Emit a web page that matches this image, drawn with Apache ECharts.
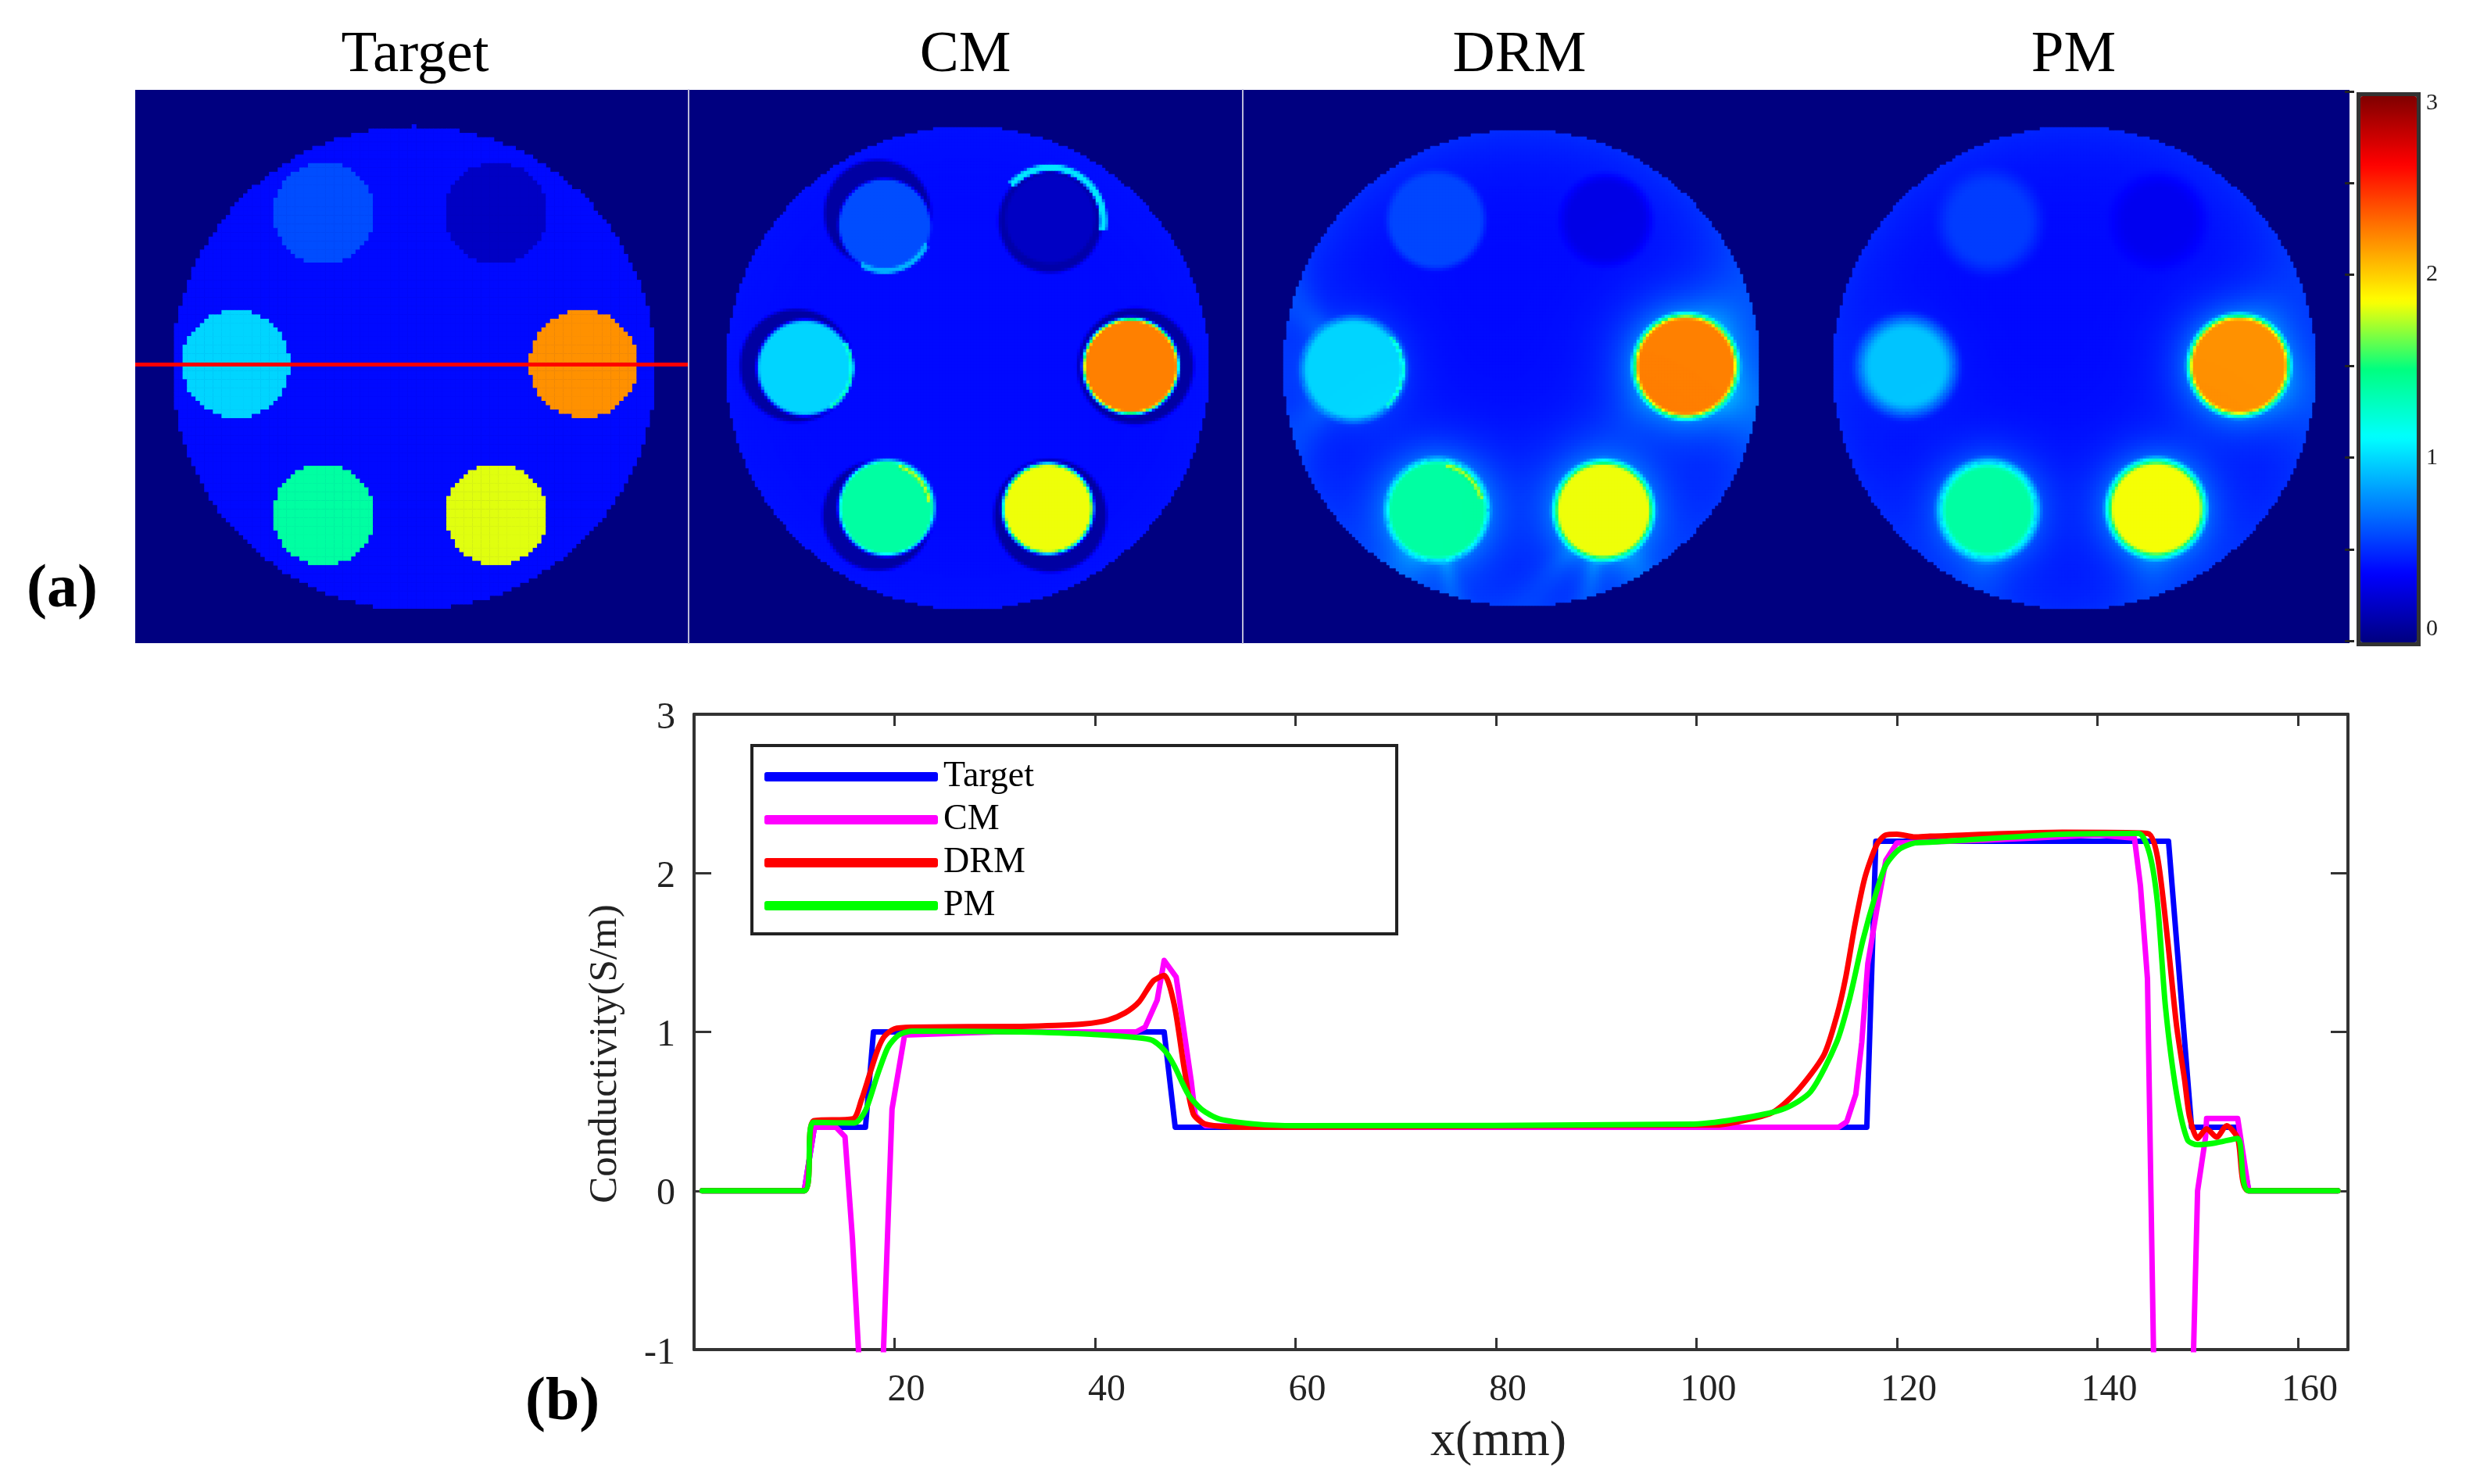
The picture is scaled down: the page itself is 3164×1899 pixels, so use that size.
<!DOCTYPE html>
<html>
<head>
<meta charset="utf-8">
<title>Conductivity reconstruction</title>
<script src="https://cdn.jsdelivr.net/npm/echarts@6/dist/echarts.min.js"></script>
<style>
html, body { margin: 0; padding: 0; background: #fff; }
#main { width: 3164px; height: 1899px; }
</style>
</head>
<body>
<div id="main"></div>
<script>
// profile along the red line: x in mm, y in S/m
var targetX = [0.8, 11, 12, 17.1, 17.9, 46.9, 48, 117, 117.9, 147.1, 149.4, 153.9, 155.1, 164];
var targetY = [0, 0, 0.4, 0.4, 1, 1, 0.4, 0.4, 2.2, 2.2, 0.4, 0.4, 0, 0];

var cmX = [0.8, 11, 12, 14.15, 15.06, 15.8, 16.4, 17.1, 18.2, 18.9, 19.75, 21, 30, 44.1, 45, 46.2, 46.9, 48.1, 49.6, 50, 51, 60, 114.2, 115, 115.9, 116.5, 117.1, 118, 118.9, 120, 130, 140, 143.7, 144.3, 145, 145.6, 146.3, 148.9, 149.6, 150, 150.8, 150.9, 154, 155.1, 164];
var cmY = [0, 0, 0.4, 0.4, 0.34, -0.3, -1, -2.5, -2.5, -1, 0.515, 0.98, 1, 1, 1.03, 1.2, 1.45, 1.345, 0.69, 0.475, 0.41, 0.4, 0.4, 0.435, 0.607, 0.937, 1.43, 1.77, 2.08, 2.19, 2.21, 2.24, 2.22, 1.92, 1.335, -1, -3, -3, -1, 0, 0.34, 0.455, 0.455, 0, 0];

var drmX = [0.8, 11, 11.9, 15.85, 16.7, 17.5, 18.3, 18.96, 20, 21.7, 32.6, 36, 38.9, 41.3, 43, 44.4, 45.8, 46.9, 47.9, 48.9, 49.8, 51, 55, 86.7, 102.3, 103.6, 107.5, 110, 112.7, 114, 114.9, 115.8, 116.8, 118, 118.9, 120, 121.8, 123.3, 136.5, 145, 146, 147, 147.9, 148.7, 149.2, 150, 150.9, 151.9, 152.9, 154, 155.1, 164];
var drmY = [0, 0, 0.44, 0.453, 0.573, 0.73, 0.885, 0.97, 1.02, 1.03, 1.035, 1.04, 1.05, 1.075, 1.12, 1.19, 1.32, 1.355, 1.173, 0.77, 0.485, 0.42, 0.4, 0.41, 0.415, 0.427, 0.49, 0.624, 0.853, 1.1, 1.345, 1.67, 1.97, 2.18, 2.24, 2.245, 2.227, 2.232, 2.257, 2.25, 2.1, 1.584, 1.04, 0.7, 0.466, 0.33, 0.39, 0.337, 0.41, 0.33, 0, 0];

var pmX = [0.8, 11, 11.9, 16, 17.1, 18.3, 19.35, 20.4, 21.7, 32.6, 39.6, 45.5, 46.9, 47.9, 49.3, 50.7, 52.4, 56, 60, 99.7, 104.9, 108.8, 111.4, 114, 115.3, 116.6, 117.9, 118.9, 120.2, 121.8, 123.3, 136.5, 144.1, 145.2, 146, 146.8, 147.9, 149, 150, 151.7, 154, 155.1, 164];
var pmY = [0, 0, 0.43, 0.427, 0.505, 0.73, 0.904, 0.98, 1.005, 1, 0.985, 0.952, 0.886, 0.788, 0.607, 0.509, 0.452, 0.42, 0.41, 0.42, 0.46, 0.518, 0.624, 0.937, 1.214, 1.575, 1.87, 2.05, 2.148, 2.19, 2.194, 2.245, 2.25, 2.125, 1.81, 1.155, 0.612, 0.32, 0.29, 0.3, 0.33, 0, 0];

var panelNames = ['Target', 'CM', 'DRM', 'PM'];
var xTicks = [20, 40, 60, 80, 100, 120, 140, 160];
var jetColors = ['#000080', '#0000ff', '#0080ff', '#00ffff', '#00ff80', '#ffff00', '#ff8000', '#ff0000', '#800000'];

// image panels: no pixel table survives in the picture, so each field is rebuilt
// from what can be read off it. units are panel widths / 708
// disc rows: x, y, radius, conductivity, edge width, glow amount, glow width
var targetDiscs = [
	[241.5, 158, 65, 0.6, 0, 0, 1],
	[462, 158, 65, 0.2, 0, 0, 1],
	[129, 351, 69, 1, 0, 0, 1],
	[574, 351, 69, 2.2, 0, 0, 1],
	[241.5, 544, 65, 1.4, 0, 0, 1],
	[462, 544, 65, 1.83, 0, 0, 1]
];
var cmDiscs = [
	[241, 158, 68, 0.1, 7, 0, 1],
	[462, 168, 66, 0.12, 7, 0, 1],
	[137, 353, 72, 0.1, 7, 0, 1],
	[571, 354, 74, 0.1, 7, 0, 1],
	[241, 545, 70, 0.1, 7, 0, 1],
	[462, 545, 72, 0.1, 7, 0, 1],
	[250, 173, 59, 0.6, 6, 0, 1],
	[462, 165, 57, 0.2, 6, 0, 1],
	[148, 356, 61, 1, 8, 0, 1],
	[565, 354, 61, 2.25, 9, 0, 1],
	[252.5, 535, 61, 1.4, 9, 0, 1],
	[459, 536, 58, 1.85, 9, 0, 1]
];
var drmDiscs = [
	[247.5, 167, 62, 0.58, 14, 0, 1],
	[465, 167, 56, 0.3, 22, 0, 1],
	[142, 358, 66, 1, 16, 0.12, 24],
	[567, 354, 66, 2.25, 14, 0.35, 30],
	[249, 538, 65, 1.4, 14, 0.3, 28],
	[462, 538.5, 63, 1.85, 14, 0.3, 28]
];
var pmDiscs = [
	[248, 169, 62, 0.55, 32, 0, 1],
	[464, 168, 56, 0.33, 34, 0, 1],
	[142, 354, 60, 0.95, 30, 0.05, 22],
	[567, 353, 64, 2.2, 14, 0.32, 26],
	[246, 538, 62, 1.4, 20, 0.25, 26],
	[461, 536, 62, 1.86, 16, 0.3, 26]
];
// arc rows: x, y, radius, width, from angle, to angle, conductivity
var cmArcs = [
	[462, 168, 68, 9, -138, 10, 1.05],
	[250, 173, 59, 7, 25, 120, 0.9],
	[148, 356, 60, 4, -32, 58, 1.35],
	[252.5, 535, 55, 4, -75, -8, 1.8]
];
var drmArcs = [
	[249, 538, 58, 5, -78, -14, 1.75],
	[142, 358, 63, 4, -40, 50, 1.3]
];
// faint streaks towards the rim: x, y, angle, half angle, amount
var drmRays = [
	[142, 358, -130, 14, 0.14], [142, 358, 130, 16, 0.12], [567, 354, 35, 25, 0.18], [567, 354, -55, 25, 0.12],
	[567, 354, 140, 20, 0.06], [249, 538, 120, 18, 0.12], [249, 538, 80, 8, 0.14], [462, 538, 100, 8, 0.14],
	[462, 538, 60, 14, 0.14], [462, 538, 130, 10, 0.1]
];
var pmRays = [
	[567, 354, 30, 30, 0.1], [567, 354, -60, 25, 0.08], [461, 536, 95, 20, 0.1], [246, 538, 95, 20, 0.08]
];
// phantom outline: x, y, radius
var outlines = [[356.5, 356, 309], [356, 356, 309], [357, 356, 305], [356, 356, 309]];
var backgrounds = [0.4, 0.4, 0.4, 0.4];
var rimGlow = [0, 0.02, 0.1, 0.08];

var panelCells = [128, 177, 177, 177];
var panelDiscs = [targetDiscs, cmDiscs, drmDiscs, pmDiscs];
var panelArcs = [[], cmArcs, drmArcs, []];
var panelRays = [[], [], drmRays, pmRays];

function cover(d, edge) {
	if (edge === 0) return d <= 0 ? 1 : 0;
	var t = Math.max(0, Math.min(1, 0.5 - d / edge));
	return t * t * (3 - 2 * t);
}

function fieldAt(p, x, y) {
	var o = outlines[p];
	var rr = Math.sqrt((x - o[0]) * (x - o[0]) + (y - o[1]) * (y - o[1])) / o[2];
	var v = backgrounds[p] + rimGlow[p] * Math.pow(rr, 6);
	panelRays[p].forEach(function (r) {
		var dx = x - r[0], dy = y - r[1];
		var da = Math.atan2(dy, dx) * 180 / Math.PI - r[2];
		if (da > 180) da -= 360;
		if (da < -180) da += 360;
		var dist = Math.sqrt(dx * dx + dy * dy);
		v += r[4] * Math.exp(-(da * da) / (r[3] * r[3])) * Math.exp(-dist / 260);
	});
	panelDiscs[p].forEach(function (c) {
		var d = Math.sqrt((x - c[0]) * (x - c[0]) + (y - c[1]) * (y - c[1])) - c[2];
		if (c[5] > 0 && d > 0) v += c[5] * Math.exp(-d / c[6]);
		var k = cover(d, c[4]);
		v = v + (c[3] - v) * k;
	});
	panelArcs[p].forEach(function (a) {
		var dx = x - a[0], dy = y - a[1];
		var ang = Math.atan2(dy, dx) * 180 / Math.PI;
		if (ang < a[4] || ang > a[5]) return;
		var k = cover(Math.abs(Math.sqrt(dx * dx + dy * dy) - a[2]) - a[3] / 2, 4);
		v = v + (a[6] - v) * k;
	});
	return v;
}

function panelData(p) {
	var n = panelCells[p], step = 708 / n, out = [], o = outlines[p];
	for (var j = 0; j < n; j++) {
		for (var i = 0; i < n; i++) {
			var x = (i + 0.5) * step, y = (j + 0.5) * step;
			if ((x - o[0]) * (x - o[0]) + (y - o[1]) * (y - o[1]) > o[2] * o[2]) continue;
			out.push([i, j, +fieldAt(p, x, y).toFixed(3)]);
		}
	}
	return out;
}

function cells(n) {
	var a = [];
	for (var i = 0; i < n; i++) a.push(i);
	return a;
}

function pairs(xs, ys) {
	return xs.map(function (x, i) { return [x, ys[i]]; });
}

var serif = 'Liberation Serif';
var grids = [], xAxes = [], yAxes = [], series = [], titles = [];
var panelLeft = [173, 882, 1590, 2298];
var panelTitleX = [531, 1235, 1944, 2653];

panelNames.forEach(function (name, p) {
	grids.push({ left: panelLeft[p], top: 115, width: 708, height: 708, show: true, backgroundColor: jetColors[0], borderWidth: 0 });
	xAxes.push({ type: 'category', gridIndex: p, data: cells(panelCells[p]), show: false });
	// the faint divider on the right of the first two panels
	yAxes.push({
		type: 'category', gridIndex: p, data: cells(panelCells[p]), inverse: true, position: 'right', z: 5,
		show: p < 2,
		axisLine: { show: true, lineStyle: { color: '#b9b9d9', width: 2 } },
		axisTick: { show: false },
		axisLabel: { show: false }
	});
	var s = {
		type: 'heatmap', xAxisIndex: p, yAxisIndex: p, data: panelData(p),
		progressive: 0, silent: true, animation: false
	};
	if (p === 0) {
		s.markLine = {
			silent: true, symbol: 'none', animation: false,
			label: { show: false },
			lineStyle: { color: '#ff0000', width: 5, type: 'solid' },
			data: [{ yAxis: 63 }]
		};
	}
	series.push(s);
	titles.push({
		text: name, left: panelTitleX[p], top: 34, padding: 0, textAlign: 'center',
		textStyle: { fontFamily: serif, fontSize: 75, fontWeight: 'normal', color: '#000' }
	});
});

titles.push({ text: '(a)', left: 34, top: 717, padding: 0, textStyle: { fontFamily: serif, fontSize: 78, fontWeight: 'bold', color: '#000' } });
titles.push({ text: '(b)', left: 672, top: 1757, padding: 0, textStyle: { fontFamily: serif, fontSize: 78, fontWeight: 'bold', color: '#000' } });

// colour bar ticks and labels, the gradient itself comes from the visualMap
grids.push({ left: 3012, top: 117, width: 76, height: 703 });
xAxes.push({ type: 'value', gridIndex: 4, show: false });
yAxes.push({
	type: 'value', gridIndex: 4, position: 'right', min: 0, max: 3, interval: 0.5, z: 8,
	axisLine: { show: false },
	splitLine: { show: false },
	axisTick: { show: true, inside: true, length: 12, lineStyle: { color: '#222', width: 3 } },
	axisLabel: {
		margin: 16, fontFamily: serif, fontSize: 30, color: '#222',
		verticalAlignMinLabel: 'bottom', verticalAlignMaxLabel: 'top',
		formatter: function (v) { return v % 1 === 0 ? String(v) : ''; }
	}
});

// line plot, boxed with ticks on all four sides
var axisLine = { show: true, onZero: false, lineStyle: { color: '#333', width: 4 } };
var lineGrid = grids.length;
grids.push({ left: 888, top: 914, width: 2116, height: 813 });
xAxes.push({
	type: 'value', gridIndex: lineGrid, position: 'bottom', min: 0, max: 165, interval: 20, z: 1,
	name: 'x(mm)', nameLocation: 'middle', nameGap: 86,
	nameTextStyle: { fontFamily: serif, fontSize: 64, color: '#222', padding: [0, 58, 0, 0] },
	axisLine: axisLine,
	splitLine: { show: false },
	axisTick: { inside: true, length: 15, lineStyle: { color: '#333', width: 3 } },
	axisLabel: {
		margin: 28, fontFamily: serif, fontSize: 48, color: '#222', showMinLabel: false, showMaxLabel: false,
		padding: [0, 0, 0, 30],
		formatter: function (v) { return xTicks.indexOf(v) >= 0 ? String(v) : ''; }
	}
});
yAxes.push({
	type: 'value', gridIndex: lineGrid, position: 'left', min: -1, max: 3, interval: 1, z: 1,
	name: 'Conductivity(S/m)', nameLocation: 'middle', nameGap: 88,
	nameTextStyle: { fontFamily: serif, fontSize: 51, color: '#222', padding: [0, 56, 0, 0] },
	axisLine: axisLine,
	splitLine: { show: false },
	axisTick: { inside: true, length: 22, lineStyle: { color: '#333', width: 3 } },
	axisLabel: {
		margin: 24, formatter: '{a|{value}}',
		rich: { a: { fontFamily: serif, fontSize: 48, color: '#222', padding: [10, 0, 0, 0] } }
	}
});
xAxes.push({
	type: 'value', gridIndex: lineGrid, position: 'top', min: 0, max: 165, interval: 20, z: 1,
	axisLine: axisLine,
	splitLine: { show: false },
	axisTick: { inside: true, length: 15, lineStyle: { color: '#333', width: 3 } },
	axisLabel: { show: false }
});
yAxes.push({
	type: 'value', gridIndex: lineGrid, position: 'right', min: -1, max: 3, interval: 1, z: 1,
	axisLine: axisLine,
	splitLine: { show: false },
	axisTick: { inside: true, length: 22, lineStyle: { color: '#333', width: 3 } },
	axisLabel: { show: false }
});

var lineXIndex = 4 + 1, lineYIndex = 4 + 1;
var lineNames = ['Target', 'CM', 'DRM', 'PM'];
var lineColors = ['#0000ff', '#ff00ff', '#ff0000', '#00ff00'];
var lineSmooth = [false, false, 0.25, 0.25];
var lineData = [pairs(targetX, targetY), pairs(cmX, cmY), pairs(drmX, drmY), pairs(pmX, pmY)];
lineNames.forEach(function (name, i) {
	series.push({
		name: name, type: 'line', xAxisIndex: lineXIndex, yAxisIndex: lineYIndex, data: lineData[i],
		color: lineColors[i], showSymbol: false, symbol: 'none', animation: false, z: 3 + i, clip: true,
		smooth: lineSmooth[i],
		lineStyle: { color: lineColors[i], width: 7, join: 'round', cap: 'round' }
	});
});

var myChart = echarts.init(document.getElementById('main'));
myChart.setOption({
	backgroundColor: '#fff',
	animation: false,
	title: titles,
	grid: grids,
	xAxis: xAxes,
	yAxis: yAxes,
	series: series,
	visualMap: {
		type: 'continuous', seriesIndex: [0, 1, 2, 3], dimension: 2,
		min: 0, max: 3, calculable: false, hoverLink: false, realtime: false,
		left: 3015, top: 118, itemWidth: 72, itemHeight: 699, padding: 0, text: null,
		borderColor: '#333', borderWidth: 10,
		inRange: { color: jetColors },
		textStyle: { color: 'transparent', fontSize: 1 }
	},
	legend: {
		data: lineNames, orient: 'vertical', left: 962, top: 954, align: 'left',
		padding: [17, 464, 13, 16], itemGap: 9, itemWidth: 222, itemHeight: 12, icon: 'roundRect',
		borderColor: '#222', borderWidth: 4, backgroundColor: '#fff', selectedMode: false,
		textStyle: { fontFamily: serif, fontSize: 46, color: '#000', padding: [0, 0, 0, 2] }
	}
});
</script>
</body>
</html>
